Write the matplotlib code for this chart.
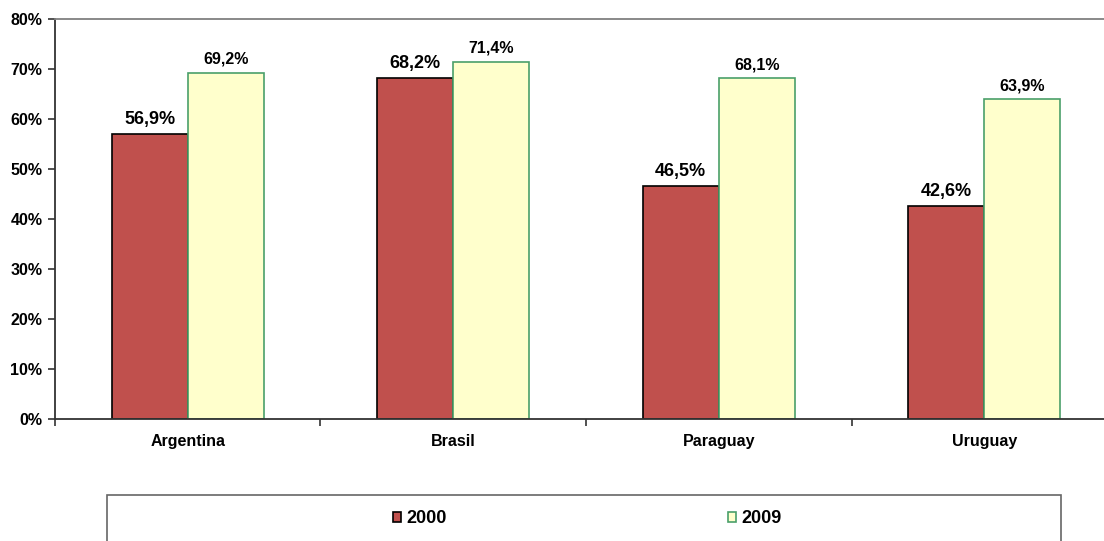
import numpy as np
import matplotlib
matplotlib.use('Agg')
import matplotlib.pyplot as plt
from matplotlib.patches import Rectangle, Patch

plt.rcParams['font.family'] = ['Liberation Sans', 'DejaVu Sans']
plt.rcParams['font.weight'] = 'bold'

countries = ['Argentina', 'Brasil', 'Paraguay', 'Uruguay']
years = ['2000', '2009']
values_2000 = [56.9, 68.2, 46.5, 42.6]
values_2009 = [69.2, 71.4, 68.1, 63.9]
y_ticks = [0, 10, 20, 30, 40, 50, 60, 70, 80]

red = '#C0504D'
yellow = '#FFFFCC'
green = '#4A9F6A'


def fmt(v):
    return f'{v:.1f}'.replace('.', ',') + '%'


def main():
    fig = plt.figure(figsize=(11.04, 5.41), dpi=100)
    ax = fig.add_axes([0.0498, 0.2264, 0.9620, 0.7385])

    x = np.arange(len(countries)) + 0.5
    w = 0.287
    b1 = ax.bar(x - w / 2, values_2000, w, color=red, edgecolor='black', linewidth=1.2)
    b2 = ax.bar(x + w / 2, values_2009, w, color=yellow, edgecolor=green, linewidth=1.2)

    for rect, v in zip(b1, values_2000):
        ax.annotate(fmt(v), (rect.get_x() + rect.get_width() / 2, v),
                    xytext=(0, 7.2), textcoords='offset points',
                    ha='center', va='baseline', fontsize=13, fontweight='bold')
    for rect, v in zip(b2, values_2009):
        ax.annotate(fmt(v), (rect.get_x() + rect.get_width() / 2, v),
                    xytext=(0, 6.5), textcoords='offset points',
                    ha='center', va='baseline', fontsize=11.5, fontweight='bold')

    ax.set_xlim(0, len(countries))
    ax.set_ylim(0, 80)
    ax.set_yticks(y_ticks)
    ax.set_yticklabels([f'{t}%' for t in y_ticks], fontsize=11.5, fontweight='bold')
    ax.set_xticks(np.arange(len(countries) + 1))
    ax.set_xticklabels([])
    ax.set_xticks(x, minor=True)
    ax.set_xticklabels(countries, minor=True, fontsize=11.5, fontweight='bold')
    ax.tick_params(axis='x', which='minor', length=0, pad=11)
    ax.tick_params(axis='x', which='major', length=5, width=1.2, direction='out', color='#333333')
    ax.tick_params(axis='y', length=5, width=1.2, direction='out', color='#333333', pad=4)

    ax.spines['right'].set_visible(False)
    ax.spines['left'].set_color('#333333')
    ax.spines['left'].set_linewidth(1.3)
    ax.spines['bottom'].set_color('#333333')
    ax.spines['bottom'].set_linewidth(1.3)
    ax.spines['top'].set_color('#808080')
    ax.spines['top'].set_linewidth(1.3)

    # legend box, cut off by the bottom of the picture
    fig.patches.append(Rectangle((0.0969, -0.05), 0.864, 0.135, transform=fig.transFigure,
                                 facecolor='white', edgecolor='#666666', linewidth=1.2))
    handles = [Patch(facecolor=red, edgecolor='black', linewidth=1.2),
               Patch(facecolor=yellow, edgecolor=green, linewidth=1.2)]
    fig.legend(handles, years, loc='center', bbox_to_anchor=(0.532, 0.0407), ncol=2,
               frameon=False, prop={'weight': 'bold', 'size': 13},
               handlelength=0.45, handleheight=0.45, handletextpad=0.3, columnspacing=15.6)

    fig.savefig('out.png', dpi=100)


if __name__ == '__main__':
    main()
